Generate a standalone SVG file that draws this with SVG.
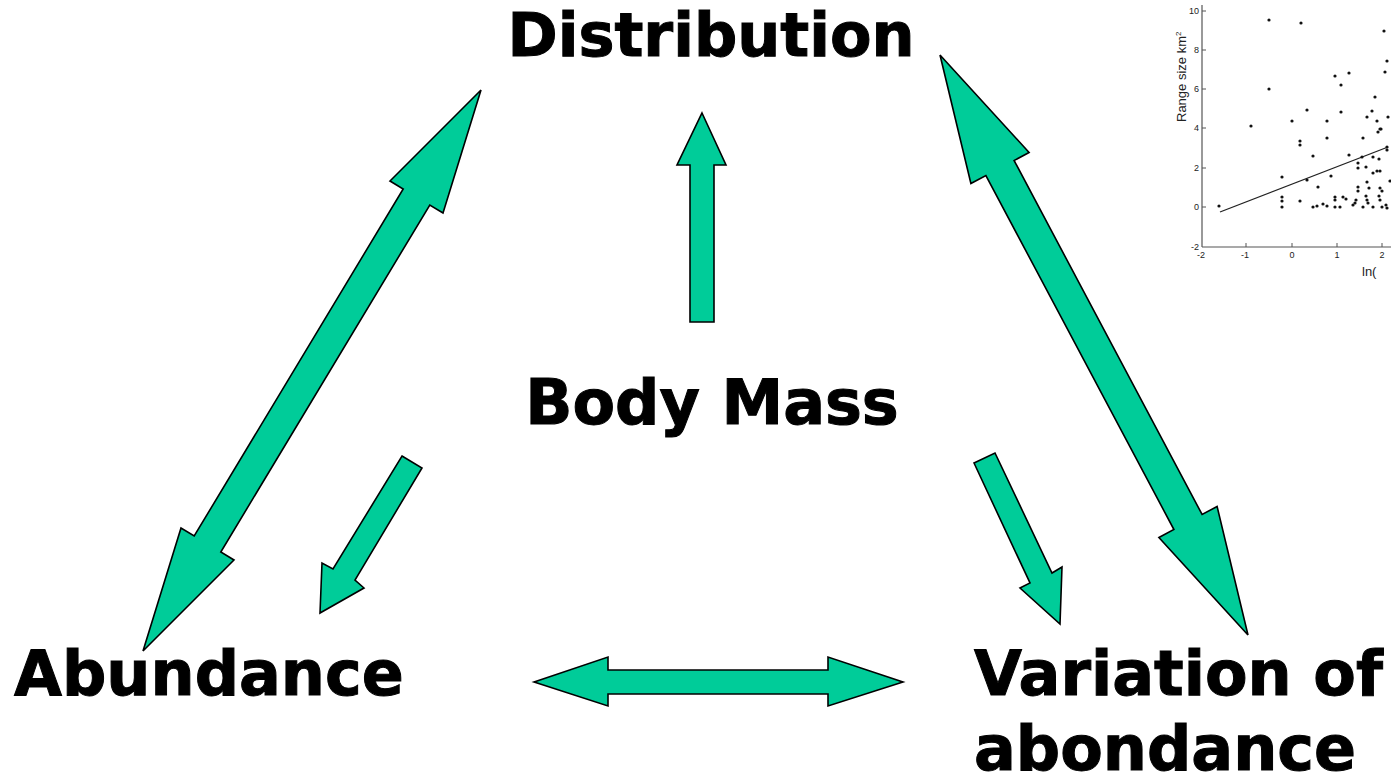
<svg xmlns="http://www.w3.org/2000/svg" width="1391" height="778" viewBox="0 0 1391 778">
<style>
.lbl{font-family:"DejaVu Sans","Verdana",sans-serif;font-weight:bold;font-size:62px;fill:#000;stroke:#000;stroke-width:1}
.arr{fill:#00CC99;stroke:#000;stroke-width:1.6;stroke-linejoin:miter}
.tk{font-family:"Liberation Sans",Arial,sans-serif;font-size:9px;fill:#222}
.ax{stroke:#555;stroke-width:1.2;fill:none}
.dot{fill:#111}
</style>
<rect width="1391" height="778" fill="#fff"/>
<g id="plot">
  <line class="ax" x1="1202" y1="5" x2="1202" y2="247"/>
  <line class="ax" x1="1202" y1="247" x2="1391" y2="247"/>
  <g stroke="#555" stroke-width="1">
    <line x1="1202" y1="11" x2="1206" y2="11"/>
    <line x1="1202" y1="50" x2="1206" y2="50"/>
    <line x1="1202" y1="89" x2="1206" y2="89"/>
    <line x1="1202" y1="128" x2="1206" y2="128"/>
    <line x1="1202" y1="168" x2="1206" y2="168"/>
    <line x1="1202" y1="207" x2="1206" y2="207"/>
    <line x1="1246" y1="247" x2="1246" y2="243"/>
    <line x1="1292" y1="247" x2="1292" y2="243"/>
    <line x1="1337" y1="247" x2="1337" y2="243"/>
    <line x1="1382" y1="247" x2="1382" y2="243"/>
  </g>
  <g class="tk" text-anchor="end">
    <text x="1199" y="14">10</text>
    <text x="1199" y="53">8</text>
    <text x="1199" y="92">6</text>
    <text x="1199" y="131">4</text>
    <text x="1199" y="171">2</text>
    <text x="1199" y="210">0</text>
    <text x="1199" y="250">-2</text>
  </g>
  <g class="tk" text-anchor="middle">
    <text x="1201" y="258">-2</text>
    <text x="1245" y="258">-1</text>
    <text x="1292" y="258">0</text>
    <text x="1337" y="258">1</text>
    <text x="1382" y="258">2</text>
  </g>
  <text x="1362" y="276" font-family="Liberation Sans, Arial, sans-serif" font-size="13" fill="#222">ln(</text>
  <text transform="translate(1186,122) rotate(-90)" font-family="Liberation Sans, Arial, sans-serif" font-size="13" fill="#222">Range size km<tspan font-size="8" dy="-5">2</tspan></text>
  <line x1="1220" y1="212" x2="1388" y2="147" stroke="#222" stroke-width="1.3"/>
  <g class="dot">
    <circle cx="1269" cy="20" r="1.6"/><circle cx="1269" cy="89" r="1.6"/><circle cx="1251" cy="126" r="1.6"/>
    <circle cx="1301" cy="23" r="1.6"/><circle cx="1384" cy="31" r="1.6"/><circle cx="1387" cy="61" r="1.6"/>
    <circle cx="1385" cy="72" r="1.6"/><circle cx="1335" cy="76" r="1.6"/><circle cx="1349" cy="73" r="1.6"/>
    <circle cx="1341" cy="85" r="1.6"/><circle cx="1375" cy="97" r="1.6"/><circle cx="1307" cy="110" r="1.6"/>
    <circle cx="1341" cy="112" r="1.6"/><circle cx="1372" cy="111" r="1.6"/><circle cx="1367" cy="117" r="1.6"/>
    <circle cx="1377" cy="121" r="1.6"/><circle cx="1388" cy="117" r="1.6"/><circle cx="1292" cy="121" r="1.6"/>
    <circle cx="1327" cy="121" r="1.6"/><circle cx="1380" cy="129" r="1.6"/>
    <circle cx="1282" cy="177" r="1.6"/><circle cx="1282" cy="197" r="1.6"/><circle cx="1282" cy="201" r="1.6"/>
    <circle cx="1282" cy="207" r="1.6"/><circle cx="1219" cy="206" r="1.6"/>
    <circle cx="1300" cy="141" r="1.6"/><circle cx="1300" cy="145" r="1.6"/><circle cx="1327" cy="138" r="1.6"/>
    <circle cx="1363" cy="138" r="1.6"/><circle cx="1378" cy="132" r="1.6"/><circle cx="1381" cy="129" r="1.6"/>
    <circle cx="1313" cy="156" r="1.6"/><circle cx="1349" cy="155" r="1.6"/><circle cx="1362" cy="157" r="1.6"/>
    <circle cx="1373" cy="157" r="1.6"/><circle cx="1379" cy="159" r="1.6"/><circle cx="1387" cy="147" r="1.6"/>
    <circle cx="1387" cy="150" r="1.6"/><circle cx="1358" cy="163" r="1.6"/><circle cx="1358" cy="168" r="1.6"/>
    <circle cx="1366" cy="167" r="1.6"/><circle cx="1377" cy="171" r="1.6"/><circle cx="1380" cy="171" r="1.6"/>
    <circle cx="1373" cy="173" r="1.6"/><circle cx="1331" cy="176" r="1.6"/><circle cx="1307" cy="180" r="1.6"/>
    <circle cx="1318" cy="187" r="1.6"/><circle cx="1367" cy="182" r="1.6"/><circle cx="1369" cy="188" r="1.6"/>
    <circle cx="1358" cy="187" r="1.6"/><circle cx="1358" cy="191" r="1.6"/><circle cx="1380" cy="188" r="1.6"/>
    <circle cx="1382" cy="191" r="1.6"/><circle cx="1390" cy="181" r="1.6"/><circle cx="1335" cy="197" r="1.6"/>
    <circle cx="1335" cy="200" r="1.6"/><circle cx="1343" cy="197" r="1.6"/><circle cx="1346" cy="199" r="1.6"/>
    <circle cx="1356" cy="200" r="1.6"/><circle cx="1355" cy="203" r="1.6"/><circle cx="1366" cy="196" r="1.6"/>
    <circle cx="1367" cy="200" r="1.6"/><circle cx="1368" cy="203" r="1.6"/><circle cx="1379" cy="196" r="1.6"/>
    <circle cx="1380" cy="200" r="1.6"/><circle cx="1300" cy="201" r="1.6"/><circle cx="1313" cy="207" r="1.6"/>
    <circle cx="1317" cy="206" r="1.6"/><circle cx="1323" cy="204" r="1.6"/><circle cx="1327" cy="206" r="1.6"/>
    <circle cx="1335" cy="207" r="1.6"/><circle cx="1340" cy="207" r="1.6"/><circle cx="1353" cy="205" r="1.6"/>
    <circle cx="1363" cy="207" r="1.6"/><circle cx="1373" cy="207" r="1.6"/><circle cx="1382" cy="207" r="1.6"/>
    <circle cx="1386" cy="205" r="1.6"/><circle cx="1387" cy="208" r="1.6"/>
  </g>
</g>
<g id="node-distribution"><text class="lbl" x="711" y="56" text-anchor="middle" style="font-size:60.5px">Distribution</text></g>
<g id="node-bodymass"><text class="lbl" x="712" y="424" text-anchor="middle">Body Mass</text></g>
<g id="node-abundance"><text class="lbl" x="14" y="695">Abundance</text></g>
<g id="node-variation"><text class="lbl" x="974" y="695">Variation of</text><text class="lbl" x="974" y="770">abondance</text></g>
<g id="connectors">
  <polygon class="arr" points="481,90 443,213 429.8,205 220.8,552 234,560 143,651 181,528 194.2,536 403.2,189 390,181"/>
  <polygon class="arr" points="940,55 1029.1,152.5 1014.1,160.5 1202.1,514.5 1217.1,506.5 1248,635 1158.9,537.5 1173.9,529.5 985.9,175.5 970.9,183.5"/>
  <polygon class="arr" points="534,682 608,657 608,670 828,670 828,657 903,682 828,706 828,694 608,694 608,706"/>
  <polygon class="arr" points="702,113 726,165 714,165 714,322 690,322 690,165 677,165"/>
  <polygon class="arr" points="402,456 422,468 355,580 364,588 320,613 322,563 333,569"/>
  <polygon class="arr" points="974,463 995,453 1052,573 1062,567 1060,624 1020,588 1030,583"/>
</g>
</svg>
